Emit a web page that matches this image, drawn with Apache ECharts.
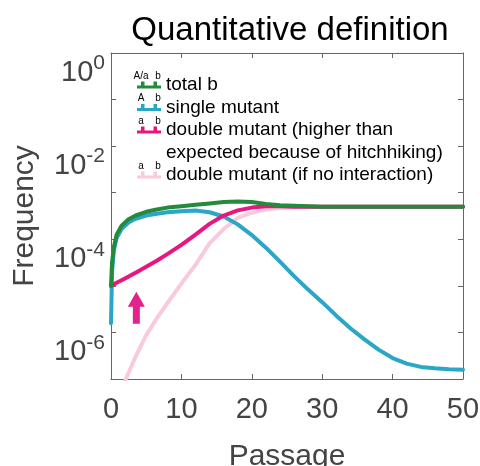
<!DOCTYPE html>
<html>
<head>
<meta charset="utf-8">
<script src="https://cdn.jsdelivr.net/npm/echarts@6/dist/echarts.min.js"></script>
<style>
  html, body { margin: 0; padding: 0; background: #fff; }
  #chart { width: 480px; height: 466px; }
</style>
</head>
<body>
<div id="chart"></div>
<script>
// passage (x) sample points shared by all curves
const passage = [0, 0.15, 0.4, 0.8, 1.5, 2.5, 3.5, 5, 6.5, 8, 10, 12, 14, 16, 18, 20, 22, 24, 26, 28, 30, 32, 34, 36, 38, 40, 42, 44, 46, 48, 50];

// frequencies
const totalB = [1.0e-5, 3.16e-5, 6.76e-5, 1.26e-4, 1.95e-4, 2.69e-4, 3.24e-4, 3.89e-4, 4.37e-4, 4.79e-4, 5.13e-4, 5.50e-4, 5.89e-4, 6.31e-4, 6.46e-4, 6.31e-4, 5.75e-4, 5.37e-4, 5.25e-4, 5.13e-4, 5.01e-4, 5.0e-4, 5.0e-4, 5.0e-4, 5.0e-4, 5.0e-4, 5.0e-4, 5.0e-4, 5.0e-4, 5.0e-4, 5.0e-4];
const singleMutant = [1.58e-6, 2.0e-5, 5.62e-5, 1.07e-4, 1.66e-4, 2.29e-4, 2.75e-4, 3.24e-4, 3.55e-4, 3.80e-4, 3.98e-4, 4.17e-4, 3.80e-4, 3.09e-4, 2.09e-4, 1.23e-4, 6.61e-5, 3.31e-5, 1.62e-5, 8.32e-6, 4.47e-6, 2.29e-6, 1.23e-6, 7.08e-7, 4.27e-7, 2.82e-7, 2.14e-7, 1.82e-7, 1.70e-7, 1.62e-7, 1.58e-7];
const doubleMutant = [1.0e-5, 1.02e-5, 1.07e-5, 1.17e-5, 1.32e-5, 1.58e-5, 1.91e-5, 2.57e-5, 3.47e-5, 4.79e-5, 7.59e-5, 1.26e-4, 2.14e-4, 3.24e-4, 4.17e-4, 4.79e-4, 5.13e-4, 5.13e-4, 5.01e-4, 5.0e-4, 5.0e-4, 5.0e-4, 5.0e-4, 5.0e-4, 5.0e-4, 5.0e-4, 5.0e-4, 5.0e-4, 5.0e-4, 5.0e-4, 5.0e-4];
const noInteraction = [1.45e-8, 1.7e-8, 2.09e-8, 3.16e-8, 6.03e-8, 1.38e-7, 3.02e-7, 8.71e-7, 2.0e-6, 4.27e-6, 1.12e-5, 2.82e-5, 8.13e-5, 1.66e-4, 2.88e-4, 3.72e-4, 4.37e-4, 4.68e-4, 4.90e-4, 5.0e-4, 5.0e-4, 5.0e-4, 5.0e-4, 5.0e-4, 5.0e-4, 5.0e-4, 5.0e-4, 5.0e-4, 5.0e-4, 5.0e-4, 5.0e-4];

const seriesNames = ['total b', 'single mutant', 'double mutant (higher than expected because of hitchhiking)', 'double mutant (if no interaction)'];
const iconLetters = [['A/a', 'b'], ['A', 'b'], ['a', 'b'], ['a', 'b']];
const arrowAt = [3.6, 3.4e-6]; // magenta arrow, passage / frequency

const FONT = '"Liberation Sans", Arial, Helvetica, sans-serif';
const AXIS_COLOR = '#666';
const LABEL_COLOR = '#444';
const COLORS = ['#238b3b', '#2aa7c7', '#e8177f', '#f9c9de'];
const bIcon = 'path://M0,4H24V7H0Z M4,0H7.5V4H4Z M16.5,0H20V4H16.5Z';
const arrowIcon = 'path://M8.5,0L17,15H12V32H5V15H0Z';

const chart = echarts.init(document.getElementById('chart'));
const toPairs = (ys) => passage.map((x, i) => [x, ys[i]]);

// only even exponents get a label, like 10^-2
const expLabel = (v) => {
  const n = Math.round(Math.log10(v));
  if (n % 2 !== 0) return '';
  return '{b|10}{e|' + n + '}';
};

const tickStyle = { show: true, inside: true, length: 5, lineStyle: { color: AXIS_COLOR } };
const lineStyle = { show: true, onZero: false, lineStyle: { color: AXIS_COLOR, width: 1 } };

const legendBase = {
  orient: 'vertical',
  left: 137,
  padding: 0,
  itemGap: 0,
  itemWidth: 24,
  itemHeight: 7,
  icon: bIcon,
  selectedMode: false,
  itemStyle: { borderWidth: 0 },
  textStyle: { fontSize: 19, lineHeight: 22.5, color: '#000', fontFamily: FONT }
};

// legend rows (text centre y) used for the little letters above the icons
const rowY = [85, 107.5, 130, 175];
const letterGraphics = [];
iconLetters.forEach((pair, i) => {
  [141, 158].forEach((x, j) => {
    letterGraphics.push({
      type: 'text',
      x: x,
      y: rowY[i] - 9,
      silent: true,
      style: { text: pair[j], fontSize: 10, fontFamily: FONT, fill: '#000', align: 'center', verticalAlign: 'middle' }
    });
  });
});

const option = {
  animation: false,
  backgroundColor: '#fff',
  textStyle: { fontFamily: FONT },
  title: {
    text: 'Quantitative definition',
    left: 285,
    top: 9,
    textAlign: 'center',
    textStyle: { fontSize: 33, fontWeight: 'normal', color: '#000', fontFamily: FONT }
  },
  grid: { left: 111, right: 17, top: 53, bottom: 87, containLabel: false, outerBoundsMode: 'none' },
  legend: [
    Object.assign({}, legendBase, { top: 73.75, data: [seriesNames[0], seriesNames[1]] }),
    // leading empty line keeps the icon level with the first text line
    Object.assign({}, legendBase, {
      top: 96.25,
      data: [seriesNames[2]],
      formatter: (name) => '\n' + name.replace(' than ', ' than\n')
    }),
    Object.assign({}, legendBase, { top: 163.75, data: [seriesNames[3]] })
  ],
  graphic: letterGraphics,
  xAxis: [
    {
      type: 'value', min: 0, max: 50, interval: 10,
      name: 'Passage', nameLocation: 'middle', nameGap: 63,
      nameTextStyle: { fontSize: 30, color: LABEL_COLOR, fontFamily: FONT },
      axisLine: lineStyle, axisTick: tickStyle, splitLine: { show: false },
      axisLabel: { fontSize: 29, color: LABEL_COLOR, margin: 16, fontFamily: FONT }
    },
    {
      type: 'value', position: 'top', min: 0, max: 50, interval: 10,
      axisLine: lineStyle, axisTick: tickStyle, splitLine: { show: false },
      axisLabel: { show: false }
    }
  ],
  yAxis: [
    {
      type: 'log', logBase: 10, min: 1e-7, max: 1, interval: 1,
      name: 'Frequency', nameLocation: 'middle', nameGap: 71,
      nameTextStyle: { fontSize: 30, color: LABEL_COLOR, fontFamily: FONT },
      axisLine: lineStyle, axisTick: tickStyle, splitLine: { show: false },
      axisLabel: {
        formatter: expLabel,
        margin: 6,
        verticalAlign: 'top',
        color: LABEL_COLOR,
        rich: {
          b: { fontSize: 29, lineHeight: 34, verticalAlign: 'bottom', color: LABEL_COLOR, fontFamily: FONT },
          e: { fontSize: 21, lineHeight: 20, verticalAlign: 'top', color: LABEL_COLOR, fontFamily: FONT }
        }
      }
    },
    {
      type: 'log', logBase: 10, min: 1e-7, max: 1, interval: 1, position: 'right',
      axisLine: lineStyle, axisTick: tickStyle, splitLine: { show: false },
      axisLabel: { show: false }
    }
  ],
  // drawing order: pale pink under cyan under magenta under green
  series: [
    { name: seriesNames[3], data: toPairs(noInteraction), color: COLORS[3], z: 2 },
    { name: seriesNames[1], data: toPairs(singleMutant), color: COLORS[1], z: 3 },
    {
      name: seriesNames[2], data: toPairs(doubleMutant), color: COLORS[2], z: 4,
      markPoint: {
        silent: true,
        symbol: arrowIcon,
        symbolSize: [17, 32],
        symbolKeepAspect: false,
        itemStyle: { color: '#e5228b' },
        label: { show: false },
        data: [{ coord: arrowAt }]
      }
    },
    { name: seriesNames[0], data: toPairs(totalB), color: COLORS[0], z: 5 }
  ].map((s) => Object.assign({
    type: 'line',
    showSymbol: false,
    symbol: 'none',
    smooth: false,
    lineStyle: { width: 4, join: 'round', cap: 'round' }
  }, s))
};

chart.setOption(option);
window.addEventListener('resize', () => chart.resize());
</script>
</body>
</html>
